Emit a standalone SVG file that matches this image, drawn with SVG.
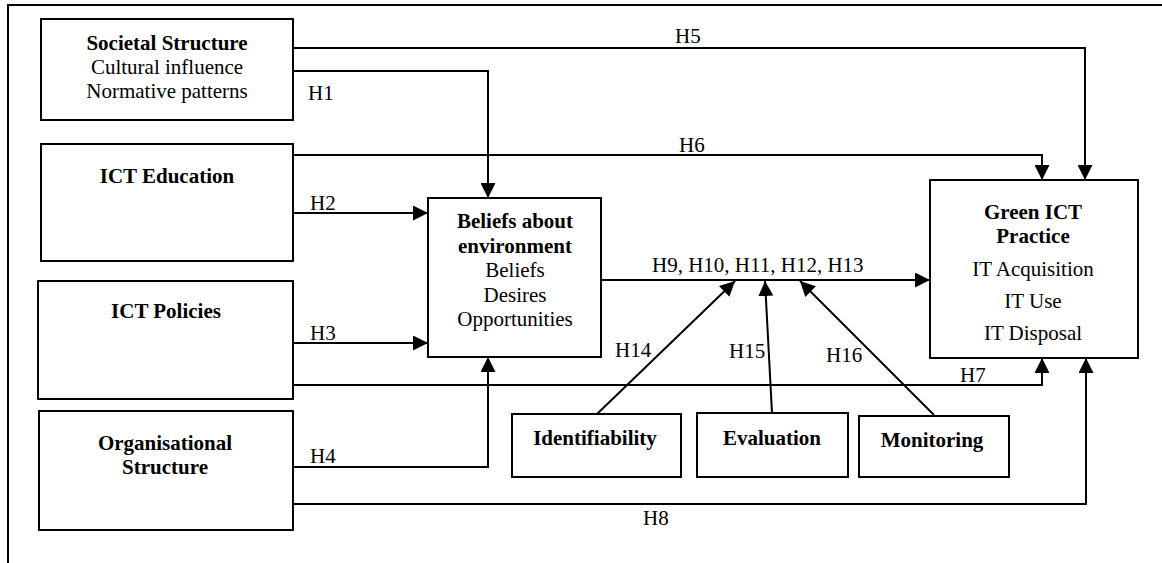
<svg xmlns="http://www.w3.org/2000/svg" width="1162" height="563" viewBox="0 0 1162 563">
  <style>
    .box { fill: #ffffff; stroke: #000000; stroke-width: 2; }
    .link { fill: none; stroke: #000000; stroke-width: 2; marker-end: url(#arrow); }
    .frame { fill: none; stroke: #000000; stroke-width: 2; }
    text { font-family: "Liberation Serif", "Times New Roman", serif; font-size: 21px; fill: #000000; }
    .title { font-weight: bold; }
    .c { text-anchor: middle; }
  </style>
  <defs>
    <marker id="arrow" viewBox="0 0 15 15" refX="15" refY="7.5" markerWidth="15" markerHeight="15" markerUnits="userSpaceOnUse" orient="auto">
      <path d="M0,0 L15,7.5 L0,15 z" fill="#000000"/>
    </marker>
  </defs>

  <rect width="1162" height="563" fill="#ffffff"/>
  <path class="frame" d="M8,563 V5 H1162"/>

  <!-- connectors -->
  <g id="connectors">
    <path class="link" d="M293,48 H1085 V180"/>
    <path class="link" d="M293,71 H488 V198"/>
    <path class="link" d="M293,155 H1042 V180"/>
    <path class="link" d="M293,213 H428"/>
    <path class="link" d="M293,343 H428"/>
    <path class="link" d="M293,385 H1042 V358"/>
    <path class="link" d="M293,467 H488 V357"/>
    <path class="link" d="M293,504 H1086 V358"/>
    <path class="link" d="M601,280 H930"/>
    <path class="link" d="M597,414 L735,281"/>
    <path class="link" d="M772,413 L765,281"/>
    <path class="link" d="M934,415 L800,281"/>
  </g>

  <!-- connector labels -->
  <g id="labels">
    <text x="675" y="43">H5</text>
    <text x="308" y="100">H1</text>
    <text x="679" y="152">H6</text>
    <text x="310" y="210">H2</text>
    <text x="310" y="340">H3</text>
    <text x="960" y="382">H7</text>
    <text x="310" y="463">H4</text>
    <text x="643" y="525">H8</text>
    <text x="652" y="272">H9, H10, H11, H12, H13</text>
    <text x="615" y="357">H14</text>
    <text x="729" y="358">H15</text>
    <text x="826" y="362">H16</text>
  </g>

  <!-- nodes -->
  <g id="societal-structure">
    <rect class="box" x="41" y="19" width="252" height="101"/>
    <text class="title c" x="167" y="50">Societal Structure</text>
    <text class="c" x="167" y="74">Cultural influence</text>
    <text class="c" x="167" y="98">Normative patterns</text>
  </g>

  <g id="ict-education">
    <rect class="box" x="41" y="144" width="252" height="117"/>
    <text class="title c" x="167" y="183">ICT Education</text>
  </g>

  <g id="ict-policies">
    <rect class="box" x="38" y="281" width="255" height="118"/>
    <text class="title c" x="166" y="318">ICT Policies</text>
  </g>

  <g id="organisational-structure">
    <rect class="box" x="39" y="411" width="254" height="119"/>
    <text class="title c" x="165" y="450">Organisational</text>
    <text class="title c" x="165" y="474">Structure</text>
  </g>

  <g id="beliefs">
    <rect class="box" x="428" y="198" width="173" height="159"/>
    <text class="title c" x="515" y="228">Beliefs about</text>
    <text class="title c" x="515" y="253">environment</text>
    <text class="c" x="515" y="277">Beliefs</text>
    <text class="c" x="515" y="302">Desires</text>
    <text class="c" x="515" y="326">Opportunities</text>
  </g>

  <g id="green-ict-practice">
    <rect class="box" x="930" y="180" width="208" height="178"/>
    <text class="title c" x="1033" y="219">Green ICT</text>
    <text class="title c" x="1033" y="243">Practice</text>
    <text class="c" x="1033" y="276">IT Acquisition</text>
    <text class="c" x="1033" y="308">IT Use</text>
    <text class="c" x="1033" y="340">IT Disposal</text>
  </g>

  <g id="identifiability">
    <rect class="box" x="512" y="414" width="169" height="63"/>
    <text class="title c" x="595" y="445">Identifiability</text>
  </g>

  <g id="evaluation">
    <rect class="box" x="697" y="413" width="151" height="64"/>
    <text class="title c" x="772" y="445">Evaluation</text>
  </g>

  <g id="monitoring">
    <rect class="box" x="859" y="416" width="150" height="61"/>
    <text class="title c" x="932" y="447">Monitoring</text>
  </g>
</svg>
